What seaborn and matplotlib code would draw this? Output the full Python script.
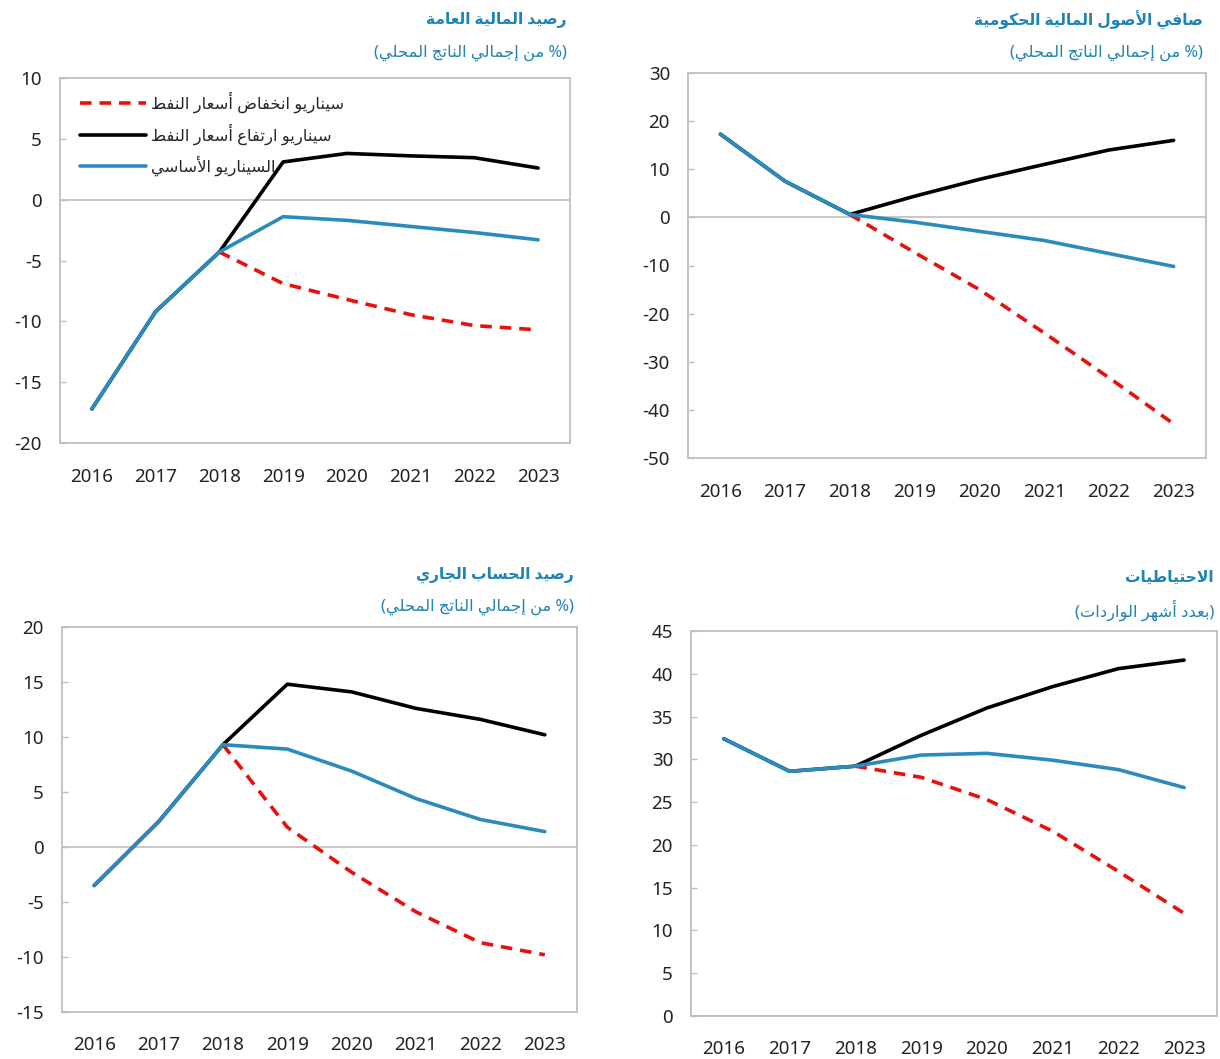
import matplotlib
matplotlib.use("Agg")
import matplotlib.pyplot as plt
import seaborn as sns
import numpy as np
import pandas as pd

# ---------------- data ----------------
years = ["2016", "2017", "2018", "2019", "2020", "2021", "2022", "2023"]

fiscal_base = [-17.2, -9.2, -4.3, -1.4, -1.7, -2.2, -2.7, -3.3]
fiscal_high = [-17.2, -9.2, -4.3, 3.1, 3.8, 3.6, 3.45, 2.6]
fiscal_low = [np.nan, np.nan, -4.3, -6.9, -8.2, -9.45, -10.35, -10.7]

assets_base = [17.3, 7.5, 0.6, -1.0, -2.9, -4.8, -7.5, -10.2]
assets_high = [17.3, 7.5, 0.6, 4.4, 7.9, 11.0, 14.0, 16.0]
assets_low = [np.nan, np.nan, 0.6, -7.3, -15.0, -24.0, -33.3, -42.9]

ca_base = [-3.5, 2.3, 9.3, 8.9, 6.9, 4.4, 2.5, 1.4]
ca_high = [-3.5, 2.3, 9.3, 14.8, 14.1, 12.6, 11.6, 10.2]
ca_low = [np.nan, np.nan, 9.3, 1.8, -2.3, -5.9, -8.7, -9.8]

res_base = [32.4, 28.6, 29.2, 30.5, 30.7, 29.9, 28.8, 26.7]
res_high = [32.4, 28.6, 29.2, 32.8, 36.0, 38.5, 40.6, 41.6]
res_low = [np.nan, np.nan, 29.2, 27.9, 25.3, 21.6, 16.9, 12.0]

label_low = "سيناريو انخفاض أسعار النفط"
label_high = "سيناريو ارتفاع أسعار النفط"
label_base = "السيناريو الأساسي"

sub_gdp = "(% من إجمالي الناتج المحلي)"
title_fiscal = "رصيد المالية العامة"
title_assets = "صافي الأصول المالية الحكومية"
title_ca = "رصيد الحساب الجاري"
title_res = "الاحتياطيات"
sub_res = "(بعدد أشهر الواردات)"

# ------------- minimal Arabic shaping (for display) -------------
DUAL = {'ئ': 0xFE89, 'ب': 0xFE8F, 'ت': 0xFE95, 'ث': 0xFE99, 'ج': 0xFE9D,
        'ح': 0xFEA1, 'خ': 0xFEA5, 'س': 0xFEB1, 'ش': 0xFEB5, 'ص': 0xFEB9,
        'ض': 0xFEBD, 'ط': 0xFEC1, 'ظ': 0xFEC5, 'ع': 0xFEC9, 'غ': 0xFECD,
        'ف': 0xFED1, 'ق': 0xFED5, 'ك': 0xFED9, 'ل': 0xFEDD, 'م': 0xFEE1,
        'ن': 0xFEE5, 'ه': 0xFEE9, 'ي': 0xFEF1}
RIGHT = {'آ': 0xFE81, 'أ': 0xFE83, 'ؤ': 0xFE85, 'إ': 0xFE87, 'ا': 0xFE8D,
         'ة': 0xFE93, 'د': 0xFEA9, 'ذ': 0xFEAB, 'ر': 0xFEAD, 'ز': 0xFEAF,
         'و': 0xFEED, 'ى': 0xFEEF, 'لا': 0xFEFB, 'لأ': 0xFEF7, 'لإ': 0xFEF9,
         'لآ': 0xFEF5}
MIRROR = {'(': ')', ')': '('}


def shape(s):
    toks = []
    i = 0
    while i < len(s):
        if s[i] == 'ل' and s[i:i + 2] in RIGHT:
            toks.append(s[i:i + 2])
            i += 2
        else:
            toks.append(s[i])
            i += 1
    out = []
    for k, t in enumerate(toks):
        prev = toks[k - 1] if k > 0 else None
        nxt = toks[k + 1] if k + 1 < len(toks) else None
        joinable = t in DUAL or t in RIGHT
        jp = joinable and prev in DUAL
        jn = t in DUAL and (nxt in DUAL or nxt in RIGHT)
        if t in DUAL:
            out.append(chr(DUAL[t] + (3 if jp and jn else 1 if jp else 2 if jn else 0)))
        elif t in RIGHT:
            out.append(chr(RIGHT[t] + (1 if jp else 0)))
        else:
            out.append(MIRROR.get(t, t))
    return "".join(reversed(out))


# ---------------- style ----------------
sns.set_style("white")
plt.rcParams['font.family'] = ['Noto Sans', 'DejaVu Sans']
plt.rcParams['axes.unicode_minus'] = False

W, H = 1220, 1059
fig = plt.figure(figsize=(W / 100, H / 100), dpi=100)

RED = "#e8100c"
BLACK = "#000000"
BLUE = "#2a8cbd"
TITLE_BLUE = "#1d84b5"
FRAME = "#bfbfbf"
LW = 2.6


def make_ax(box):
    l, r, t, b = box
    return fig.add_axes([l / W, 1 - b / H, (r - l) / W, (b - t) / H])


def draw(box, low, high, base, ylim, yticks, title, sub, xpad, ty, legend=False):
    ax = make_ax(box)
    x = np.arange(len(years))
    df = pd.DataFrame({"x": x, "low": low, "high": high, "base": base})
    sns.lineplot(data=df, x="x", y="low", ax=ax, color=RED, linewidth=LW,
                 linestyle=(0, (3.2, 2.2)), label=shape(label_low), zorder=3)
    sns.lineplot(data=df, x="x", y="high", ax=ax, color=BLACK, linewidth=LW,
                 label=shape(label_high), zorder=4)
    sns.lineplot(data=df, x="x", y="base", ax=ax, color=BLUE, linewidth=LW,
                 label=shape(label_base), zorder=5)
    ax.axhline(0, color=FRAME, lw=1.2, zorder=1)
    ax.set_xlim(-0.5, len(years) - 0.5)
    ax.set_ylim(*ylim)
    ax.set_yticks(yticks)
    ax.set_xticks(x)
    ax.set_xticklabels(years)
    ax.set_xlabel("")
    ax.set_ylabel("")
    ax.tick_params(axis="x", length=0, pad=xpad, labelsize=13.5, colors="#222222")
    ax.tick_params(axis="y", direction="in", length=4, width=1, color=FRAME,
                   pad=13, labelsize=13.5, labelcolor="#222222", left=True)
    for sp in ax.spines.values():
        sp.set_color(FRAME)
        sp.set_linewidth(1.3)
        sp.set_visible(True)
    if legend:
        ax.legend(loc="upper left", frameon=False, fontsize=11.8,
                  handlelength=4.0, handletextpad=0.3, labelspacing=0.65,
                  bbox_to_anchor=(0.02, 0.99), borderaxespad=0.2)
    else:
        ax.get_legend().remove()
    l, r, t, b = box
    fig.text((r - 3) / W, 1 - ty[0] / H, shape(title), ha="right", va="center",
             fontsize=11.2, fontweight="bold", color=TITLE_BLUE)
    fig.text((r - 3) / W, 1 - ty[1] / H, shape(sub), ha="right", va="center",
             fontsize=11.8, color=TITLE_BLUE)
    return ax


draw((60, 570, 78, 443), fiscal_low, fiscal_high, fiscal_base, (-20, 10),
     [-20, -15, -10, -5, 0, 5, 10], title_fiscal, sub_gdp, 18, (20, 53), legend=True)
draw((688, 1206, 73, 458), assets_low, assets_high, assets_base, (-50, 30),
     [-50, -40, -30, -20, -10, 0, 10, 20, 30], title_assets, sub_gdp, 18, (20, 53))
draw((62, 577, 627, 1012), ca_low, ca_high, ca_base, (-15, 20),
     [-15, -10, -5, 0, 5, 10, 15, 20], title_ca, sub_gdp, 17, (575, 607))
draw((691, 1217, 631, 1016), res_low, res_high, res_base, (0, 45),
     [0, 5, 10, 15, 20, 25, 30, 35, 40, 45], title_res, sub_res, 17, (578, 610))

fig.savefig("out.png", dpi=100)
